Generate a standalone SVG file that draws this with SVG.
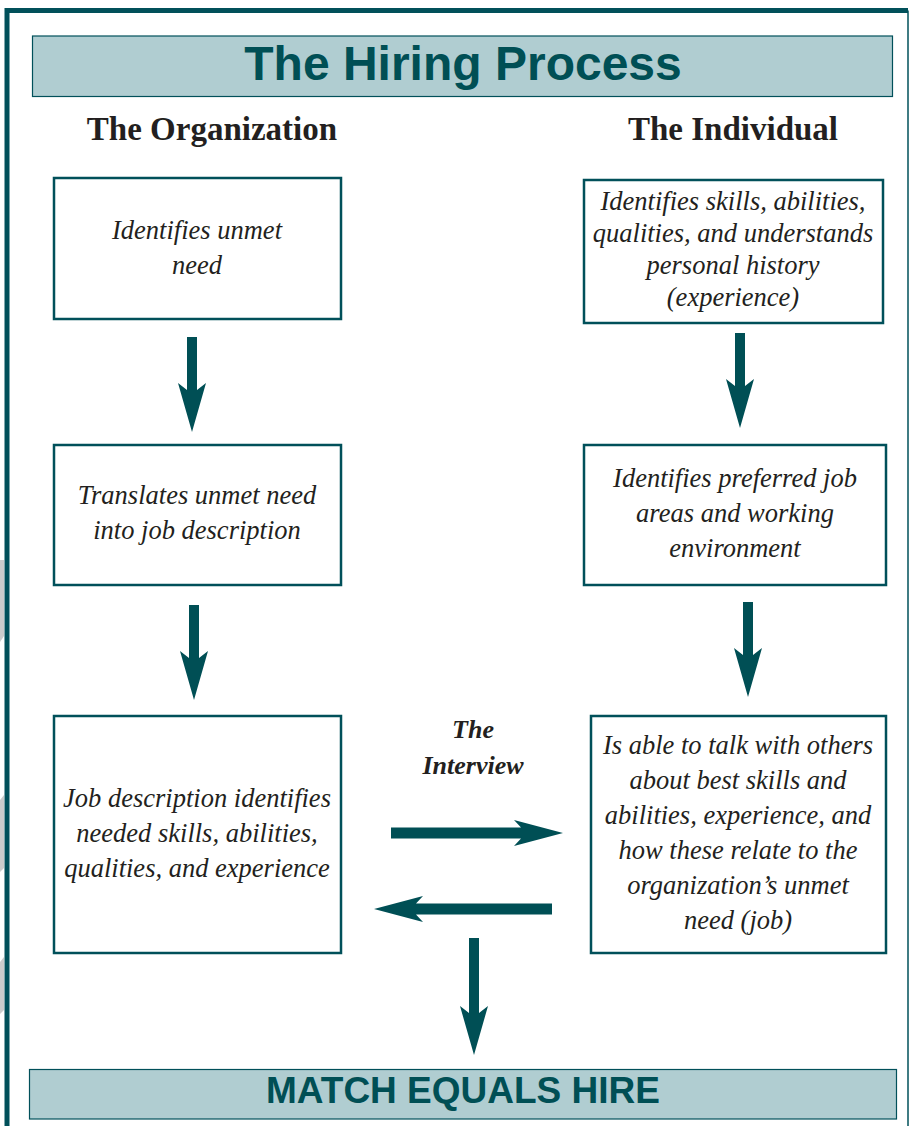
<svg xmlns="http://www.w3.org/2000/svg" width="911" height="1126" viewBox="0 0 911 1126">
<style>
.box{fill:#ffffff;stroke:#01505a;stroke-width:2.5}
.band{fill:#b0cdd1;stroke:#01505a;stroke-width:1.2}
.t{font-family:"Liberation Serif",serif;font-style:italic;font-size:26.5px;fill:#231f20;text-anchor:middle}
.h{font-family:"Liberation Serif",serif;font-weight:bold;font-size:33px;fill:#231f20;text-anchor:middle}
.iv{font-family:"Liberation Serif",serif;font-weight:bold;font-style:italic;font-size:26px;fill:#231f20;text-anchor:middle}
.big{font-family:"Liberation Sans",Arial,sans-serif;font-weight:bold;fill:#004f55;text-anchor:middle}
.arr{fill:#004f55}
</style>
<rect width="911" height="1126" fill="#ffffff"/>
<g id="page-edge" fill="#cccccc">
<polygon points="0,560 4,560 4,636 0,642"/>
<polygon points="0,800 4,795 4,868 0,872"/>
<polygon points="0,962 4,957 4,1010 0,1014"/>
</g>
<g id="frame">
<path d="M7,1126 V10.5 H908" fill="none" stroke="#01505a" stroke-width="5"/>
<path d="M908,10.5 V1126" fill="none" stroke="#01505a" stroke-width="1.5"/>
</g>
<g id="title">
<rect class="band" x="32.5" y="36" width="860" height="60.5"/>
<text class="big" x="463" y="80" font-size="48">The Hiring Process</text>
</g>
<g id="headings">
<text class="h" x="212" y="140">The Organization</text>
<text class="h" x="733" y="140">The Individual</text>
</g>
<g id="org1">
<rect class="box" x="54" y="178" width="287" height="141"/>
<text class="t" x="197" y="239">Identifies unmet</text>
<text class="t" x="197" y="274">need</text>
</g>
<g id="ind1">
<rect class="box" x="584" y="180" width="299" height="143"/>
<text class="t" x="733" y="210">Identifies skills, abilities,</text>
<text class="t" x="733" y="242">qualities, and understands</text>
<text class="t" x="733" y="274">personal history</text>
<text class="t" x="733" y="306">(experience)</text>
</g>
<g id="org2">
<rect class="box" x="54" y="445" width="287" height="140"/>
<text class="t" x="197" y="504">Translates unmet need</text>
<text class="t" x="197" y="539">into job description</text>
</g>
<g id="ind2">
<rect class="box" x="584" y="445" width="302" height="140"/>
<text class="t" x="735" y="487">Identifies preferred job</text>
<text class="t" x="735" y="522">areas and working</text>
<text class="t" x="735" y="557">environment</text>
</g>
<g id="org3">
<rect class="box" x="54" y="716" width="287" height="237"/>
<text class="t" x="197" y="807">Job description identifies</text>
<text class="t" x="197" y="842">needed skills, abilities,</text>
<text class="t" x="197" y="877">qualities, and experience</text>
</g>
<g id="ind3">
<rect class="box" x="591" y="716" width="295" height="237"/>
<text class="t" x="738" y="754">Is able to talk with others</text>
<text class="t" x="738" y="789">about best skills and</text>
<text class="t" x="738" y="824">abilities, experience, and</text>
<text class="t" x="738" y="859">how these relate to the</text>
<text class="t" x="738" y="894">organization’s unmet</text>
<text class="t" x="738" y="929">need (job)</text>
</g>
<g id="interview-label">
<text class="iv" x="473" y="738">The</text>
<text class="iv" x="473" y="774">Interview</text>
</g>
<g id="match">
<rect class="band" x="29.5" y="1069.5" width="867" height="49.5"/>
<text class="big" x="463" y="1103" font-size="37">MATCH EQUALS HIRE</text>
</g>
<g id="connectors">
<path class="arr" d="M187,337 H197 V390 L206,383 L192,432 L178,383 L187,390 Z"/>
<path class="arr" d="M189,605 H199 V658 L208,651 L194,700 L180,651 L189,658 Z"/>
<path class="arr" d="M735,333 H745 V386 L754,379 L740,428 L726,379 L735,386 Z"/>
<path class="arr" d="M743,602 H753 V655 L762,648 L748,697 L734,648 L743,655 Z"/>
<path class="arr" d="M469,938 H479 V1013 L488,1006 L474,1055 L460,1006 L469,1013 Z"/>
<path class="arr" d="M391,827.5 H521 L514,820 L563,833 L514,846 L521,838.5 H391 Z"/>
<path class="arr" d="M552,903.5 H416 L423,896 L374,909 L423,922 L416,914.5 H552 Z"/>
</g>
</svg>
